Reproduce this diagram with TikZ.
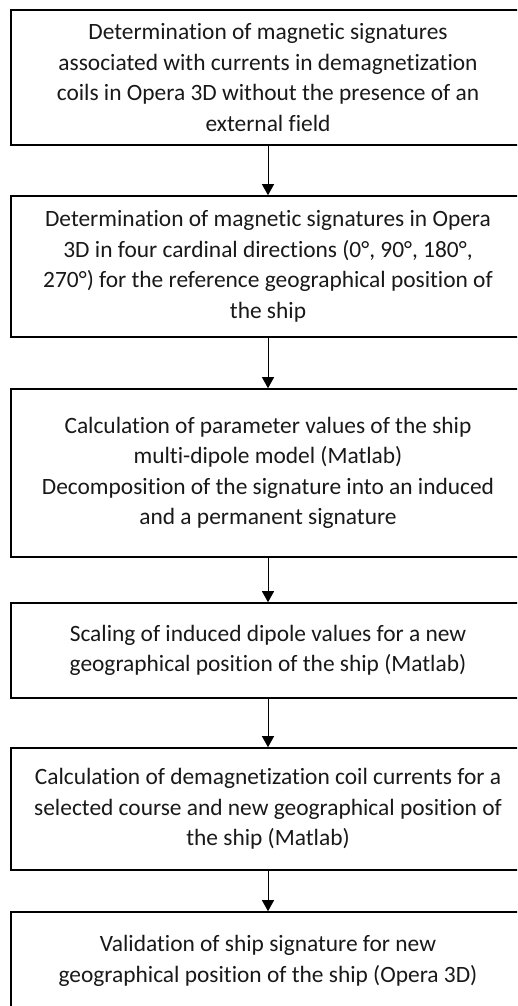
\documentclass[tikz,border=0pt]{standalone}
\usepackage{fontspec}
\setmainfont{Carlito}[Ligatures=NoCommon]
\usetikzlibrary{arrows.meta}

\tikzset{
  procbox/.style={draw=black, line width=1.6pt, fill=white, minimum width=514pt,
    align=center, inner sep=0pt, text=black!90,
    font=\fontsize{23.4}{30.5}\selectfont},
  flowarrow/.style={draw=black, line width=0.9pt, -{Triangle[width=12pt,length=11pt]}}
}

\begin{document}
\begin{tikzpicture}[x=1pt,y=-1pt]

\useasboundingbox (0,0) rectangle (517,1006);
\clip (0,0) rectangle (517,1006);

	% steps of the procedure
	\node[procbox, minimum height=135pt] (magcoils) at (268,77.5) {Determination of magnetic signatures\\associated with currents in demagnetization\\coils in Opera 3D without the presence of an\\external field};
	\node[procbox, minimum height=141pt] (cardinal) at (268,266.5) {Determination of magnetic signatures in Opera\\3D in four cardinal directions (0°, 90°, 180°,\\270°) for the reference geographical position of\\the ship};
	\node[procbox, minimum height=168pt] (dipmodel) at (268,473) {Calculation of parameter values of the ship\\multi-dipole model (Matlab)\\Decomposition of the signature into an induced\\and a permanent signature};
	\node[procbox, minimum height=95pt] (scaling) at (268,650.5) {Scaling of induced dipole values for a new\\geographical position of the ship (Matlab)};
	\node[procbox, minimum height=122pt] (coilcur) at (268,809) {Calculation of demagnetization coil currents for a\\selected course and new geographical position of\\the ship (Matlab)};
	\node[procbox, minimum height=98pt] (validate) at (268,961) {Validation of ship signature for new\\geographical position of the ship (Opera 3D)};

	% connectors
	\draw[flowarrow] (magcoils.south) -- (cardinal.north);
	\draw[flowarrow] (cardinal.south) -- (dipmodel.north);
	\draw[flowarrow] (dipmodel.south) -- (scaling.north);
	\draw[flowarrow] (scaling.south) -- (coilcur.north);
	\draw[flowarrow] (coilcur.south) -- (validate.north);

\end{tikzpicture}
\end{document}
